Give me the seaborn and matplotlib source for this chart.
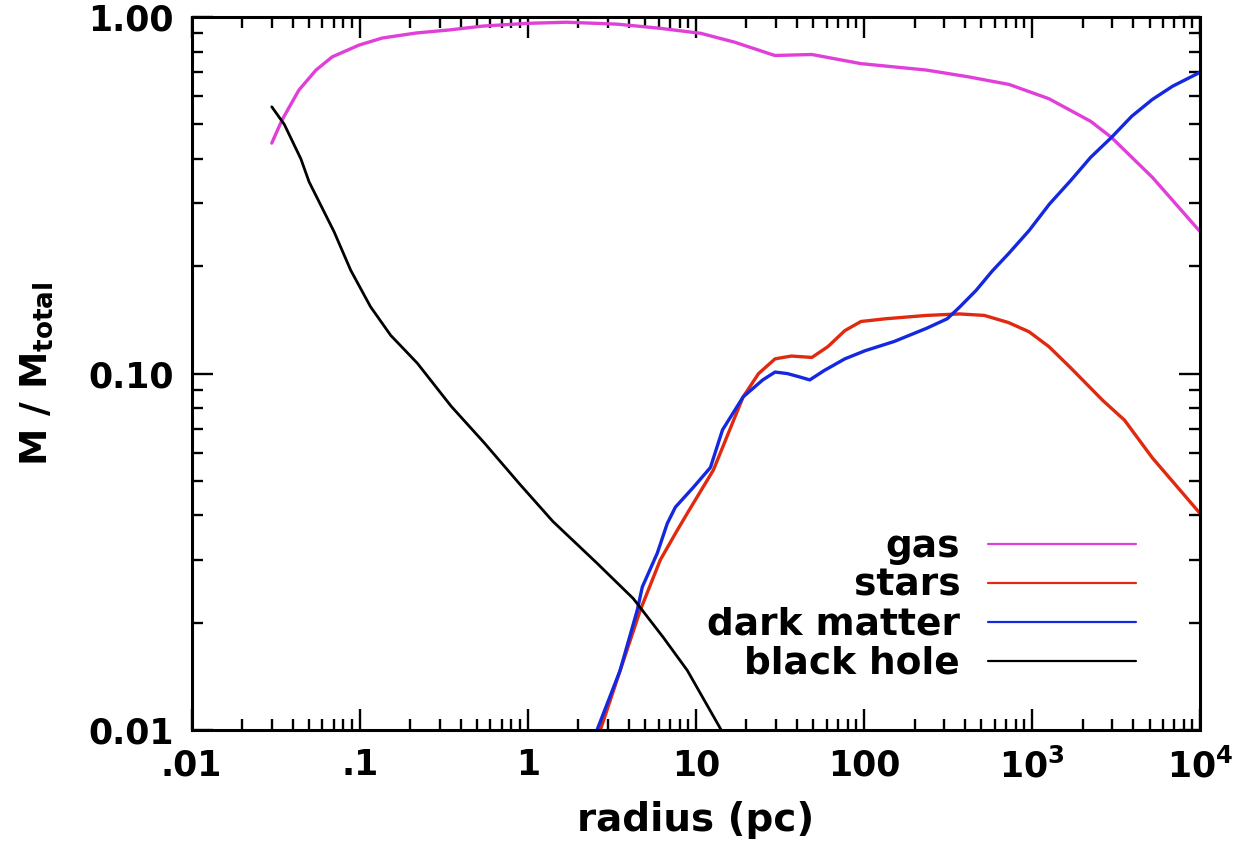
import numpy as np
import pandas as pd
import matplotlib
matplotlib.use("Agg")
import matplotlib.pyplot as plt
import seaborn as sns
from matplotlib.ticker import FixedLocator, FixedFormatter, LogLocator, NullFormatter

# ---- data ----
gas_r = [0.030, 0.0345, 0.0435, 0.055, 0.0686, 0.099, 0.136, 0.217, 0.342, 0.538, 1.0, 1.7, 3.4,
         6.1, 10.7, 17, 29.5, 49, 96, 235, 415, 730, 1260, 2230, 2960, 5200, 10000]
gas_f = [0.443, 0.514, 0.624, 0.71, 0.773, 0.834, 0.873, 0.902, 0.92, 0.943, 0.96, 0.967, 0.955,
         0.93, 0.90, 0.85, 0.78, 0.785, 0.74, 0.71, 0.68, 0.647, 0.59, 0.51, 0.46, 0.355, 0.25]

stars_r = [2.7, 4.67, 6.14, 7.76, 8.9, 12.7, 14.4, 19.1, 23.6, 29.6, 37, 49, 61, 77, 96,
           135, 236, 370, 520, 725, 960, 1260, 1690, 2640, 3550, 5200, 10000]
stars_f = [0.0100, 0.0217, 0.030, 0.0364, 0.0406, 0.0536, 0.062, 0.086, 0.100, 0.110,
           0.112, 0.111, 0.119, 0.132, 0.140, 0.1425, 0.1456, 0.147, 0.1456, 0.139, 0.131,
           0.119, 0.104, 0.084, 0.074, 0.058, 0.0405]

dm_r = [2.58, 3.54, 4.48, 4.8, 5.9, 6.76, 7.55, 9.67, 12.2, 14.4, 19.1, 25, 29.6, 35, 41, 47.6, 58,
        77, 102, 151, 236, 313, 370, 464, 580, 725, 961, 1270, 1690, 2230, 2960, 3920, 5190,
        6870, 10000]
dm_f = [0.0100, 0.0147, 0.0217, 0.0252, 0.0314, 0.038, 0.0422, 0.048, 0.0545, 0.0695, 0.086,
        0.096, 0.101, 0.100, 0.098, 0.096, 0.102, 0.110, 0.116, 0.123, 0.134, 0.1425, 0.1535,
        0.171, 0.194, 0.217, 0.252, 0.299, 0.347, 0.404, 0.459, 0.527, 0.587, 0.64, 0.70]

bh_r = [0.030, 0.0356, 0.0447, 0.050, 0.0704, 0.0884, 0.116, 0.153, 0.22, 0.35, 0.55, 0.895,
        1.41, 2.58, 4.24, 6.4, 8.9, 14.0, 15.0]
bh_f = [0.56, 0.50, 0.40, 0.345, 0.25, 0.195, 0.154, 0.128, 0.107, 0.081, 0.064, 0.049,
        0.0385, 0.0294, 0.0234, 0.0182, 0.0147, 0.0101, 0.0095]

series_names = ["gas", "stars", "dark matter", "black hole"]
series_colors = ["#e040d8", "#e02a10", "#1428e0", "#000000"]

x_ticks = [0.01, 0.1, 1, 10, 100, 1000, 10000]
x_tick_labels = [".01", ".1", "1", "10", "100", r"$\mathbf{10^{3}}$", r"$\mathbf{10^{4}}$"]
y_ticks = [0.01, 0.1, 1.0]
y_tick_labels = ["0.01", "0.10", "1.00"]

# ---- build table ----
frames = []
for name, r, f in zip(series_names, [gas_r, stars_r, dm_r, bh_r], [gas_f, stars_f, dm_f, bh_f]):
    frames.append(pd.DataFrame({"radius": r, "frac": f, "component": name}))
df = pd.concat(frames, ignore_index=True)

sns.set_theme(style="ticks")
plt.rcParams["font.family"] = ["DejaVu Sans"]
plt.rcParams["font.weight"] = "bold"
plt.rcParams["text.color"] = "black"
plt.rcParams["axes.labelcolor"] = "black"
plt.rcParams["xtick.color"] = "black"
plt.rcParams["ytick.color"] = "black"
plt.rcParams["mathtext.fontset"] = "custom"
plt.rcParams["mathtext.rm"] = "DejaVu Sans:bold"
plt.rcParams["mathtext.bf"] = "DejaVu Sans:bold"
plt.rcParams["mathtext.it"] = "DejaVu Sans:bold"

fig = plt.figure(figsize=(12.36, 8.51), dpi=100)
ax = fig.add_axes([0.155, 0.142, 0.816, 0.838])

sns.lineplot(data=df, x="radius", y="frac", hue="component", hue_order=series_names,
             palette=dict(zip(series_names, series_colors)), estimator=None, sort=False,
             linewidth=2.4, ax=ax, legend=False)
for ln in ax.lines:
    if ln.get_color() in ("#000000", "k"):
        ln.set_linewidth(2.0)

ax.set_xscale("log")
ax.set_yscale("log")
ax.set_xlim(0.01, 10000)
ax.set_ylim(0.01, 1.0)

ax.xaxis.set_major_locator(FixedLocator(x_ticks))
ax.xaxis.set_major_formatter(FixedFormatter(x_tick_labels))
ax.xaxis.set_minor_locator(LogLocator(base=10, subs=np.arange(2, 10), numticks=20))
ax.xaxis.set_minor_formatter(NullFormatter())
ax.yaxis.set_major_locator(FixedLocator(y_ticks))
ax.yaxis.set_major_formatter(FixedFormatter(y_tick_labels))
ax.yaxis.set_minor_locator(LogLocator(base=10, subs=np.arange(2, 10), numticks=20))
ax.yaxis.set_minor_formatter(NullFormatter())

ax.tick_params(which="both", direction="in", top=True, right=True, width=1.7, color="black")
ax.tick_params(which="major", length=15, labelsize=25, pad=13, labelcolor="black")
ax.tick_params(which="minor", length=8)
for lab in ax.get_xticklabels() + ax.get_yticklabels():
    lab.set_fontweight("bold")
for s in ax.spines.values():
    s.set_linewidth(2.2)
    s.set_color("black")

ax.set_xlabel("radius (pc)", fontsize=28, fontweight="bold", labelpad=12, color="black")
ax.set_ylabel(r"$\mathbf{M\ /\ M_{total}}$", fontsize=27, labelpad=24, color="black")

handles = [plt.Line2D([], [], color=c, linewidth=1.6) for c in series_colors]
leg = ax.legend(handles, series_names, loc="upper right", bbox_to_anchor=(0.9365, 0.2825),
                frameon=False, markerfirst=False, handlelength=3.95,
                handletextpad=0.74, labelspacing=0.08, borderpad=0, borderaxespad=0,
                prop={"weight": "bold", "size": 27, "family": "DejaVu Sans"})
for t in leg.get_texts():
    t.set_color("black")

fig.savefig("out.png", dpi=100)
